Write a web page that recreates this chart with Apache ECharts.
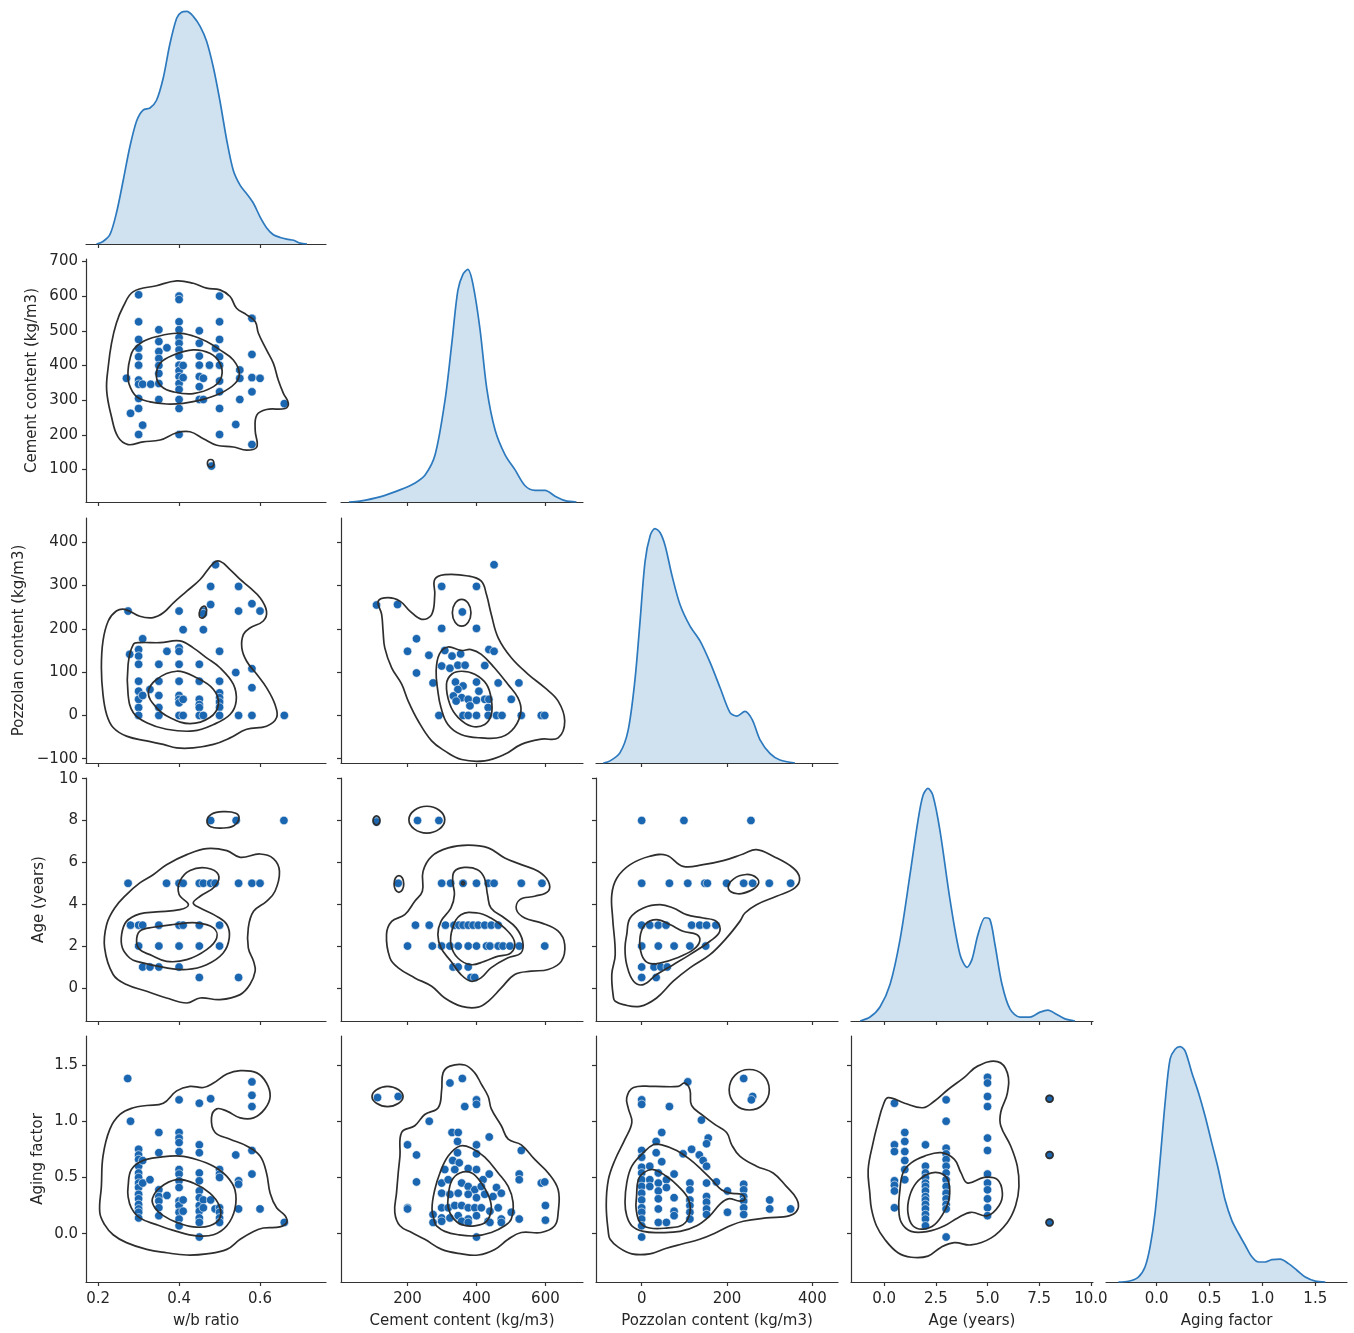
<!DOCTYPE html>
<html><head><meta charset="utf-8">
<script src="https://cdn.jsdelivr.net/npm/echarts@6/dist/echarts.min.js"></script>
<style>html,body{margin:0;padding:0;background:#fff}#c{width:1354px;height:1333px}</style>
</head><body><div id="c"></div>
<script>
// ---------------- variables / axes ----------------
const varNames = ['w/b ratio','Cement content (kg/m3)','Pozzolan content (kg/m3)','Age (years)','Aging factor'];
const xTickValues = [[0.2,0.4,0.6],[200,400,600],[0,200,400],[0,2.5,5,7.5,10],[0,0.5,1,1.5]];
const yTickValues = [null,[100,200,300,400,500,600,700],[-100,0,100,200,300,400],[0,2,4,6,8,10],[0,0.5,1,1.5]];
const xTickDecimals = [1,0,0,1,1];
const yTickDecimals = [0,0,0,0,1];
const xLimits = [[0.17,0.763],[7,709],[-107,460],[-1.6,10.1],[-0.48,1.80]];
const yLimits = [null,[6.4,707],[-110,456],[-1.58,10.03],[-0.43,1.758]];

// ---------------- diagonal KDE curves (relative density) ----------------
const kde_wb_x = [0.196,0.212,0.229,0.245,0.262,0.278,0.295,0.311,0.328,0.344,0.361,0.377,0.394,0.406,0.419,0.435,0.452,0.468,0.485,0.501,0.518,0.534,0.551,0.567,0.584,0.600,0.617,0.633,0.650,0.666,0.683,0.699,0.716];
const kde_wb_d = [0,0.011,0.040,0.132,0.274,0.415,0.529,0.576,0.585,0.617,0.715,0.858,0.971,0.997,1.0,0.979,0.936,0.872,0.757,0.615,0.444,0.316,0.252,0.216,0.174,0.117,0.068,0.040,0.028,0.021,0.016,0.004,0];
const kde_cement_x = [30,62,120,178,222,251,280,309,329,346,361,375,390,410,430,454,483,512,541,570,599,628,657,690];
const kde_cement_d = [0,0.004,0.022,0.052,0.082,0.116,0.203,0.44,0.69,0.91,0.98,1.0,0.935,0.746,0.487,0.31,0.203,0.138,0.07,0.05,0.05,0.025,0.006,0];
const kde_pozz_x = [-90,-74,-51,-32,-16,-4,8,20,31,43,55,71,90,113,137,160,184,207,223,242,259,277,301,324,359];
const kde_pozz_d = [0,0.009,0.043,0.137,0.35,0.60,0.86,0.97,1.0,0.983,0.927,0.80,0.675,0.585,0.52,0.43,0.32,0.215,0.2,0.22,0.185,0.1,0.04,0.013,0];
const kde_age_x = [-1.16,-0.68,-0.20,0.29,0.77,1.25,1.64,1.88,2.12,2.36,2.70,3.19,3.67,4.01,4.25,4.54,4.88,5.12,5.36,5.70,6.09,6.57,7.05,7.54,7.92,8.31,8.75,9.23];
const kde_age_d = [0,0.017,0.06,0.158,0.35,0.628,0.863,0.97,1.0,0.97,0.82,0.52,0.286,0.231,0.265,0.372,0.444,0.436,0.329,0.158,0.051,0.017,0.017,0.038,0.047,0.03,0.009,0];
const kde_aging_x = [-0.363,-0.268,-0.174,-0.111,-0.063,-0.016,0.032,0.079,0.126,0.174,0.221,0.268,0.332,0.395,0.458,0.521,0.584,0.647,0.710,0.774,0.837,0.900,0.963,1.026,1.089,1.168,1.247,1.326,1.405,1.500,1.595];
const kde_aging_d = [0,0.003,0.021,0.064,0.149,0.292,0.519,0.761,0.947,0.989,1.0,0.982,0.889,0.804,0.704,0.59,0.477,0.348,0.262,0.206,0.156,0.107,0.085,0.085,0.095,0.097,0.078,0.050,0.021,0.004,0];

// ---------------- scatter points ----------------
const sc_wb_cement = [[0.27,363],[0.28,262],[0.30,604],[0.30,526],[0.30,475],[0.30,450],[0.30,425],[0.30,401],[0.30,358],[0.30,346],[0.30,305],[0.30,276],[0.30,201],[0.31,228],[0.31,346],[0.33,346],[0.35,503],[0.35,469],[0.35,440],[0.35,420],[0.35,400],[0.35,377],[0.35,348],[0.35,302],[0.37,451],[0.40,600],[0.40,590],[0.40,526],[0.40,503],[0.40,481],[0.40,464],[0.40,445],[0.40,427],[0.40,401],[0.40,385],[0.40,368],[0.40,348],[0.40,331],[0.40,302],[0.40,276],[0.40,201],[0.41,400],[0.41,365],[0.45,500],[0.45,464],[0.45,427],[0.45,401],[0.45,368],[0.45,339],[0.45,302],[0.46,363],[0.46,302],[0.475,401],[0.48,110],[0.49,450],[0.50,600],[0.50,526],[0.50,475],[0.50,425],[0.50,401],[0.50,355],[0.50,324],[0.50,276],[0.50,201],[0.54,230],[0.55,387],[0.55,363],[0.55,302],[0.58,536],[0.58,432],[0.58,365],[0.58,324],[0.58,172],[0.60,363],[0.66,290]];
const sc_wb_pozz = [[0.274,241],[0.278,141],[0.30,152],[0.30,137],[0.30,118],[0.30,79],[0.30,56],[0.30,37],[0.30,18],[0.30,0],[0.31,177],[0.31,46],[0.328,60],[0.35,118],[0.35,79],[0.35,46],[0.35,18],[0.35,0],[0.37,148],[0.40,241],[0.40,156],[0.40,148],[0.40,118],[0.40,79],[0.40,46],[0.40,37],[0.40,29],[0.40,0],[0.41,198],[0.41,37],[0.41,0],[0.45,118],[0.45,79],[0.45,37],[0.45,25],[0.45,18],[0.45,0],[0.46,241],[0.46,235],[0.46,198],[0.46,0],[0.478,298],[0.478,256],[0.49,348],[0.50,148],[0.50,79],[0.50,52],[0.50,41],[0.50,31],[0.50,19],[0.50,0],[0.54,99],[0.547,298],[0.547,241],[0.547,0],[0.58,258],[0.58,108],[0.58,64],[0.58,0],[0.60,241],[0.66,0]];
const sc_cement_pozz = [[110,255],[171,256],[299,298],[400,298],[451,348],[359,239],[299,201],[400,201],[226,177],[200,148],[262,139],[308,150],[329,137],[354,142],[436,152],[451,148],[226,98],[299,114],[323,109],[346,116],[367,116],[424,115],[274,75],[339,77],[361,68],[346,60],[400,77],[407,56],[463,75],[523,75],[333,45],[357,41],[376,37],[381,22],[400,35],[424,37],[436,37],[434,18],[501,37],[341,33],[291,0],[361,0],[376,0],[400,0],[434,0],[458,0],[474,0],[530,0],[588,0],[598,0]];
const sc_wb_age = [[0.478,8],[0.541,8],[0.659,8],[0.274,5],[0.369,5],[0.40,5],[0.41,5],[0.45,5],[0.46,5],[0.478,5],[0.489,5],[0.547,5],[0.58,5],[0.60,5],[0.28,3],[0.30,3],[0.31,3],[0.35,3],[0.40,3],[0.41,3],[0.45,3],[0.50,3],[0.30,2],[0.35,2],[0.40,2],[0.45,2],[0.50,2],[0.31,1],[0.328,1],[0.35,1],[0.40,1],[0.45,0.5],[0.547,0.5]];
const sc_cement_age = [[110,8.0],[110,7.93],[229,8],[291,8],[173,5],[299,5],[325,5],[361,5],[400,5],[434,5],[451,5],[530,5],[590,5],[223,3],[263,3],[310,3],[335,3],[349,3],[361,3],[376,3],[390,3],[405,3],[424,3],[443,3],[463,3],[200,2],[272,2],[299,2],[323,2],[347,2],[376,2],[400,2],[429,2],[439,2],[463,2],[477,2],[497,2],[524,2],[598,2],[332,1],[347,1],[376,1],[384,0.5],[395,0.5]];
const sc_pozz_age = [[0,8],[99,8],[256,8],[0,5],[65,5],[108,5],[148,5],[154,5],[199,5],[239,5],[260,5],[299,5],[349,5],[0,3],[19,3],[39,3],[57,3],[117,3],[136,3],[152,3],[174,3],[0,2],[39,2],[76,2],[113,2],[150,2],[0,1],[29,1],[45,1],[60,1],[0,0.5],[34,0.5]];
const sc_wb_aging = [[0.273,1.38],[0.28,1.0],[0.30,0.75],[0.30,0.70],[0.30,0.66],[0.30,0.60],[0.30,0.54],[0.30,0.50],[0.30,0.45],[0.30,0.41],[0.30,0.35],[0.30,0.31],[0.30,0.26],[0.30,0.22],[0.30,0.19],[0.30,0.14],[0.31,0.65],[0.31,0.45],[0.328,0.48],[0.35,0.90],[0.35,0.72],[0.35,0.39],[0.35,0.33],[0.35,0.29],[0.35,0.23],[0.35,0.16],[0.37,0.34],[0.40,1.19],[0.40,0.90],[0.40,0.85],[0.40,0.81],[0.40,0.73],[0.40,0.57],[0.40,0.53],[0.40,0.47],[0.40,0.41],[0.40,0.29],[0.40,0.25],[0.40,0.19],[0.40,0.13],[0.40,0.07],[0.41,0.30],[0.41,0.20],[0.45,1.16],[0.45,0.79],[0.45,0.72],[0.45,0.54],[0.45,0.47],[0.45,0.38],[0.45,0.32],[0.45,0.25],[0.45,0.20],[0.45,0.14],[0.45,0.10],[0.45,-0.03],[0.46,0.30],[0.46,0.23],[0.478,1.20],[0.478,0.30],[0.489,0.22],[0.50,0.57],[0.50,0.53],[0.50,0.50],[0.50,0.23],[0.50,0.19],[0.50,0.14],[0.50,0.10],[0.54,0.70],[0.547,0.47],[0.547,0.44],[0.547,0.22],[0.58,1.35],[0.58,1.23],[0.58,1.13],[0.58,0.74],[0.58,0.53],[0.60,0.22],[0.66,0.10]];
const sc_cement_aging = [[113,1.21],[173,1.22],[323,1.34],[359,1.38],[400,1.19],[400,1.15],[366,1.13],[263,1.0],[329,0.90],[347,0.90],[437,0.86],[200,0.79],[345,0.82],[400,0.79],[226,0.70],[400,0.71],[530,0.74],[345,0.72],[331,0.65],[350,0.63],[308,0.57],[337,0.57],[376,0.58],[400,0.57],[437,0.53],[419,0.48],[524,0.53],[524,0.48],[226,0.46],[299,0.45],[318,0.48],[588,0.45],[598,0.46],[458,0.41],[472,0.36],[357,0.45],[376,0.42],[395,0.39],[414,0.42],[299,0.36],[323,0.35],[347,0.36],[376,0.35],[400,0.32],[424,0.35],[448,0.33],[200,0.23],[200,0.22],[299,0.23],[318,0.23],[337,0.25],[357,0.25],[376,0.23],[395,0.23],[414,0.23],[439,0.20],[463,0.23],[274,0.17],[299,0.14],[323,0.14],[347,0.16],[376,0.13],[400,0.16],[434,0.11],[472,0.13],[501,0.19],[524,0.13],[274,0.10],[299,0.11],[357,0.11],[376,0.10],[439,0.10],[472,0.10],[600,0.25],[600,0.12],[400,-0.03]];
const sc_pozz_aging = [[0,1.19],[0,1.15],[65,1.13],[108,1.35],[140,1.01],[47,0.90],[156,0.85],[152,0.80],[34,0.82],[0,0.74],[34,0.72],[97,0.71],[117,0.75],[135,0.70],[144,0.65],[152,0.60],[0,0.68],[0,0.59],[0,0.54],[0,0.48],[0,0.42],[0,0.36],[0,0.30],[0,0.23],[0,0.19],[0,0.13],[0,0.07],[0,-0.03],[19,0.60],[19,0.48],[19,0.42],[47,0.64],[39,0.54],[39,0.45],[39,0.38],[39,0.31],[39,0.22],[58,0.48],[58,0.41],[76,0.53],[76,0.32],[76,0.20],[76,0.16],[39,0.10],[58,0.10],[113,0.45],[113,0.39],[113,0.30],[113,0.25],[113,0.19],[113,0.13],[152,0.45],[152,0.33],[152,0.28],[152,0.22],[152,0.17],[175,0.46],[201,0.38],[201,0.19],[239,0.44],[239,0.39],[239,0.33],[239,0.29],[239,0.23],[239,0.17],[300,0.30],[300,0.22],[349,0.22],[239,1.38],[260,1.22],[257,1.19]];
const sc_age_aging = [[0.5,1.16],[0.5,0.79],[0.5,0.73],[0.5,0.47],[0.5,0.43],[0.5,0.38],[0.5,0.23],[1,0.90],[1,0.82],[1,0.73],[1,0.65],[1,0.57],[1,0.48],[2,0.79],[2,0.60],[2,0.54],[2,0.50],[2,0.45],[2,0.42],[2,0.38],[2,0.33],[2,0.30],[2,0.26],[2,0.22],[2,0.17],[2,0.13],[2,0.07],[3,1.19],[3,1.0],[3,0.76],[3,0.71],[3,0.66],[3,0.60],[3,0.54],[3,0.48],[3,0.42],[3,0.36],[3,0.31],[3,0.26],[3,0.22],[3,-0.03],[5,1.39],[5,1.34],[5,1.22],[5,1.13],[5,0.85],[5,0.74],[5,0.53],[5,0.45],[5,0.39],[5,0.31],[5,0.23],[5,0.16],[8,1.20],[8,0.70],[8,0.10]];

// ---------------- KDE contour lines (closed, traced in data units) ----------------
const ct_wb_cement = [
 [[0.287,613],[0.344,630],[0.394,644],[0.435,637],[0.468,623],[0.501,618],[0.526,599],[0.542,565],[0.567,546],[0.588,527],[0.596,493],[0.616,445],[0.633,406],[0.645,358],[0.658,319],[0.670,291],[0.662,276],[0.616,273],[0.592,257],[0.588,213],[0.592,165],[0.567,156],[0.534,165],[0.493,170],[0.460,189],[0.427,209],[0.394,206],[0.353,185],[0.311,180],[0.274,172],[0.249,194],[0.233,252],[0.221,329],[0.225,397],[0.233,464],[0.245,522],[0.262,570]],
 [[0.278,416],[0.287,445],[0.311,469],[0.344,483],[0.394,493],[0.435,485],[0.468,469],[0.501,445],[0.534,416],[0.549,377],[0.538,348],[0.501,319],[0.452,300],[0.410,291],[0.369,289],[0.328,295],[0.295,310],[0.276,348],[0.274,387]],
 [[0.344,368],[0.353,406],[0.386,430],[0.435,445],[0.476,435],[0.501,406],[0.505,368],[0.485,339],[0.435,319],[0.386,324],[0.357,339]],
 [[0.470,118],[0.472,126],[0.478,129],[0.484,126],[0.486,118],[0.484,110],[0.478,107],[0.472,110]]
];
const ct_wb_pozz = [
 [[0.266,245],[0.303,229],[0.336,226],[0.361,237],[0.386,260],[0.419,287],[0.452,314],[0.485,352],[0.501,356],[0.526,337],[0.551,314],[0.575,295],[0.600,272],[0.616,241],[0.608,218],[0.575,202],[0.559,187],[0.555,156],[0.567,125],[0.592,95],[0.616,64],[0.637,25],[0.641,-5],[0.616,-25],[0.567,-32],[0.526,-52],[0.485,-67],[0.435,-75],[0.394,-75],[0.361,-67],[0.320,-59],[0.270,-48],[0.237,-28],[0.221,2],[0.212,48],[0.208,110],[0.212,172],[0.225,218],[0.245,241]],
 [[0.287,164],[0.303,168],[0.353,168],[0.402,172],[0.435,156],[0.468,133],[0.501,110],[0.534,72],[0.541,33],[0.526,2],[0.485,-21],[0.435,-36],[0.369,-32],[0.320,-17],[0.287,6],[0.274,48],[0.274,118]],
 [[0.324,52],[0.344,83],[0.394,102],[0.443,87],[0.485,60],[0.497,25],[0.476,-5],[0.427,-19],[0.377,-5],[0.344,18]],
 [[0.450,230],[0.452,244],[0.460,252],[0.467,248],[0.467,236],[0.462,227],[0.455,225]]
];
const ct_cement_pozz = [
 [[115,264],[144,272],[178,264],[207,241],[241,222],[270,233],[279,279],[279,314],[308,325],[376,322],[414,310],[429,279],[443,233],[463,179],[501,133],[550,95],[598,64],[637,33],[656,-13],[637,-52],[588,-55],[530,-67],[482,-90],[424,-105],[357,-102],[308,-82],[270,-59],[231,-13],[202,33],[183,72],[154,110],[134,156],[129,195],[125,233]],
 [[317,158],[355,150],[384,152],[414,141],[452,110],[491,72],[520,41],[529,10],[510,-28],[472,-50],[414,-52],[355,-44],[317,-21],[297,18],[288,56],[283,102],[292,141]],
 [[313,72],[328,95],[357,102],[395,95],[429,72],[443,37],[443,2],[424,-21],[386,-25],[347,-5],[323,25]],
 [[330,237],[338,259],[357,268],[376,259],[384,237],[376,215],[357,206],[338,215]]
];
const ct_wb_age = [
 [[0.216,1.91],[0.221,3.03],[0.241,3.82],[0.270,4.46],[0.303,5.02],[0.336,5.41],[0.369,5.89],[0.419,6.37],[0.468,6.66],[0.518,6.56],[0.551,6.24],[0.600,6.40],[0.633,6.18],[0.648,5.57],[0.637,4.62],[0.616,4.14],[0.584,3.66],[0.571,2.87],[0.571,1.91],[0.584,1.27],[0.588,0.80],[0.575,0.16],[0.551,-0.32],[0.501,-0.56],[0.452,-0.48],[0.419,-0.72],[0.369,-0.48],[0.320,-0.16],[0.270,0.16],[0.237,0.64]],
 [[0.295,1.27],[0.369,0.96],[0.419,0.88],[0.468,1.11],[0.509,1.67],[0.524,2.39],[0.518,3.03],[0.493,3.42],[0.452,3.82],[0.435,4.06],[0.452,4.38],[0.489,4.86],[0.497,5.41],[0.468,5.73],[0.427,5.61],[0.402,5.10],[0.400,4.46],[0.423,3.98],[0.402,3.74],[0.344,3.63],[0.303,3.54],[0.270,3.18],[0.258,2.55],[0.260,1.91],[0.278,1.43]],
 [[0.295,2.23],[0.303,2.71],[0.336,2.90],[0.386,3.03],[0.443,3.11],[0.485,2.87],[0.493,2.39],[0.468,1.83],[0.419,1.35],[0.369,1.27],[0.328,1.59],[0.303,1.83]],
 [[0.469,8.0],[0.480,8.3],[0.508,8.42],[0.540,8.35],[0.548,8.1],[0.535,7.75],[0.508,7.64],[0.478,7.7]]
];
const ct_cement_age = [
 [[139,2.55],[154,3.18],[192,3.50],[221,4.14],[243,4.62],[245,5.57],[270,6.29],[318,6.69],[376,6.82],[434,6.69],[482,6.21],[530,5.89],[579,5.57],[608,5.10],[608,4.62],[569,4.38],[526,4.22],[516,3.74],[540,3.34],[588,3.11],[637,2.71],[656,2.07],[646,1.27],[608,0.88],[559,0.80],[511,0.64],[472,0.0],[434,-0.64],[405,-0.92],[357,-0.88],[308,-0.48],[270,0.08],[221,0.48],[173,0.96],[149,1.43]],
 [[336,5.57],[365,5.76],[403,5.65],[423,5.25],[432,4.46],[442,3.82],[481,3.34],[515,2.87],[534,2.23],[529,1.67],[490,1.43],[442,0.96],[413,0.48],[384,0.32],[355,0.64],[326,1.27],[297,1.91],[288,2.55],[297,3.18],[326,3.82],[336,4.46],[331,5.10]],
 [[331,2.87],[355,3.50],[403,3.58],[442,3.34],[481,2.87],[510,2.23],[500,1.67],[461,1.51],[423,1.27],[384,1.11],[346,1.43],[326,2.07]],
 [[100,8.0],[103,8.15],[110,8.22],[117,8.15],[120,8.0],[117,7.85],[110,7.78],[103,7.85]],
 [[204,8.04],[220,8.49],[256,8.68],[292,8.49],[308,8.04],[292,7.59],[256,7.40],[220,7.59]],
 [[161,4.97],[165,5.25],[175,5.37],[185,5.25],[189,4.97],[185,4.69],[175,4.57],[165,4.69]],
 [[357,5.0],[359,5.06],[361,5.08],[363,5.06],[365,5.0],[363,4.94],[361,4.92],[359,4.94]]
];
const ct_pozz_age = [
 [[-66,-0.48],[-70,0.64],[-62,1.59],[-68,3.34],[-70,4.46],[-58,5.25],[-27,5.89],[19,6.29],[58,6.34],[97,5.81],[144,5.89],[191,6.08],[238,6.40],[269,6.61],[308,6.29],[355,5.73],[370,5.25],[359,4.78],[316,4.38],[269,3.98],[242,3.58],[230,3.18],[199,2.39],[160,1.59],[113,0.96],[74,0.32],[35,-0.48],[-4,-0.88],[-43,-0.80],[-62,-0.64]],
 [[-35,2.55],[-27,3.34],[4,3.82],[43,3.98],[74,3.82],[105,3.50],[144,3.34],[175,3.18],[183,2.71],[160,2.23],[113,1.59],[74,1.11],[35,0.64],[4,0.16],[-19,0.32],[-35,1.11],[-39,1.91]],
 [[-4,2.39],[8,3.03],[35,3.26],[66,3.03],[97,2.71],[129,2.55],[136,2.23],[121,1.83],[82,1.43],[43,1.19],[16,1.19],[0,1.59]],
 [[203,4.75],[215,5.2],[245,5.42],[270,5.25],[273,4.95],[255,4.65],[225,4.5]]
];
const ct_wb_aging = [
 [[0.208,0.42],[0.212,0.69],[0.229,0.93],[0.254,1.06],[0.287,1.12],[0.320,1.14],[0.361,1.16],[0.394,1.27],[0.427,1.31],[0.460,1.30],[0.485,1.34],[0.518,1.42],[0.551,1.45],[0.592,1.43],[0.616,1.34],[0.625,1.22],[0.612,1.11],[0.584,1.03],[0.551,1.03],[0.518,1.09],[0.493,1.11],[0.480,1.03],[0.489,0.90],[0.526,0.84],[0.567,0.78],[0.600,0.69],[0.616,0.54],[0.625,0.36],[0.641,0.23],[0.662,0.16],[0.666,0.10],[0.649,0.06],[0.608,0.05],[0.584,0.02],[0.551,-0.05],[0.518,-0.14],[0.468,-0.18],[0.419,-0.19],[0.369,-0.17],[0.320,-0.14],[0.270,-0.08],[0.237,-0.01],[0.216,0.08],[0.204,0.19]],
 [[0.274,0.42],[0.282,0.57],[0.311,0.65],[0.353,0.68],[0.402,0.69],[0.443,0.66],[0.485,0.60],[0.518,0.51],[0.538,0.39],[0.538,0.22],[0.518,0.07],[0.485,-0.01],[0.443,-0.02],[0.394,0.02],[0.344,0.08],[0.303,0.14],[0.282,0.23],[0.274,0.33]],
 [[0.334,0.31],[0.353,0.41],[0.394,0.48],[0.435,0.45],[0.476,0.36],[0.499,0.25],[0.501,0.14],[0.476,0.07],[0.435,0.06],[0.394,0.10],[0.361,0.16],[0.340,0.23]]
];
const ct_cement_aging = [
 [[163,0.19],[168,0.36],[173,0.54],[178,0.69],[183,0.90],[221,0.96],[250,1.06],[289,1.12],[299,1.28],[303,1.43],[323,1.49],[366,1.50],[395,1.43],[414,1.33],[434,1.22],[443,1.11],[472,0.96],[492,0.84],[530,0.79],[569,0.66],[608,0.54],[637,0.39],[637,0.19],[627,0.07],[588,0.01],[530,0.01],[492,-0.05],[453,-0.14],[405,-0.19],[357,-0.18],[299,-0.14],[250,-0.05],[212,0.01],[178,0.07]],
 [[279,0.10],[271,0.22],[279,0.39],[294,0.54],[318,0.69],[352,0.78],[386,0.76],[424,0.68],[463,0.54],[492,0.42],[506,0.28],[501,0.13],[482,0.07],[443,0.01],[395,-0.02],[347,-0.01],[308,0.02],[284,0.07]],
 [[318,0.33],[328,0.47],[352,0.54],[386,0.54],[414,0.45],[436,0.33],[443,0.22],[429,0.11],[395,0.07],[357,0.08],[332,0.14],[318,0.23]],
 [[97,1.22],[110,1.28],[142,1.31],[174,1.28],[187,1.22],[174,1.16],[142,1.13],[110,1.16]]
];
const ct_pozz_aging = [
 [[-78,0.01],[-83,0.25],[-78,0.48],[-62,0.66],[-39,0.84],[-23,0.99],[-31,1.11],[-35,1.21],[-19,1.30],[27,1.31],[86,1.31],[101,1.34],[113,1.28],[117,1.14],[144,1.05],[172,0.97],[199,0.90],[211,0.79],[230,0.69],[269,0.60],[308,0.54],[339,0.42],[363,0.31],[366,0.22],[347,0.16],[292,0.14],[238,0.11],[207,0.07],[175,0.01],[136,-0.05],[97,-0.09],[58,-0.13],[19,-0.18],[-23,-0.18],[-55,-0.12],[-74,-0.05]],
 [[-39,0.28],[-35,0.45],[-23,0.60],[4,0.72],[27,0.79],[47,0.79],[82,0.74],[113,0.66],[140,0.57],[164,0.48],[187,0.39],[207,0.36],[234,0.35],[242,0.31],[230,0.29],[203,0.31],[183,0.26],[160,0.16],[129,0.07],[90,0.02],[43,0.01],[4,0.02],[-23,0.07],[-35,0.16]],
 [[-12,0.33],[-8,0.48],[4,0.54],[27,0.57],[58,0.51],[86,0.42],[109,0.31],[113,0.19],[97,0.08],[58,0.05],[19,0.05],[-4,0.10],[-13,0.22]],
 [[205,1.28],[219,1.41],[252,1.46],[285,1.41],[299,1.28],[285,1.15],[252,1.10],[219,1.15]]
];
const ct_age_aging = [
 [[-0.69,0.36],[-0.77,0.57],[-0.53,0.81],[-0.29,0.99],[-0.05,1.14],[0.19,1.21],[0.99,1.16],[1.88,1.12],[2.44,1.18],[3.08,1.28],[3.88,1.39],[4.52,1.49],[5.48,1.53],[5.96,1.43],[5.96,1.25],[5.64,1.08],[5.64,0.96],[6.12,0.78],[6.44,0.60],[6.52,0.42],[6.36,0.25],[5.96,0.10],[5.16,-0.04],[4.20,-0.10],[3.40,-0.08],[2.76,-0.12],[2.12,-0.20],[1.31,-0.21],[0.67,-0.17],[0.03,-0.05],[-0.37,0.07],[-0.61,0.22]],
 [[0.75,0.36],[0.91,0.54],[1.31,0.63],[1.96,0.69],[2.76,0.72],[3.40,0.66],[3.72,0.54],[4.04,0.45],[4.84,0.50],[5.48,0.48],[5.72,0.36],[5.56,0.25],[5.00,0.16],[4.20,0.19],[3.56,0.14],[2.92,0.07],[2.12,0.02],[1.31,0.02],[0.83,0.10],[0.71,0.23]],
 [[1.15,0.19],[1.23,0.33],[1.55,0.45],[2.12,0.53],[2.68,0.54],[3.08,0.48],[3.16,0.33],[2.92,0.20],[2.44,0.08],[1.88,0.04],[1.39,0.07]],
 [[7.83,1.20],[7.88,1.221],[8,1.23],[8.12,1.221],[8.17,1.20],[8.12,1.179],[8,1.17],[7.88,1.179]],
 [[7.83,0.70],[7.88,0.721],[8,0.73],[8.12,0.721],[8.17,0.70],[8.12,0.679],[8,0.67],[7.88,0.679]],
 [[7.83,0.10],[7.88,0.121],[8,0.13],[8.12,0.121],[8.17,0.10],[8.12,0.079],[8,0.07],[7.88,0.079]]
];

// ---------------- panel wiring ----------------
const diagCurves = [[kde_wb_x,kde_wb_d],[kde_cement_x,kde_cement_d],[kde_pozz_x,kde_pozz_d],[kde_age_x,kde_age_d],[kde_aging_x,kde_aging_d]];
const lowerPanels = {
 '1,0':[sc_wb_cement,ct_wb_cement],
 '2,0':[sc_wb_pozz,ct_wb_pozz], '2,1':[sc_cement_pozz,ct_cement_pozz],
 '3,0':[sc_wb_age,ct_wb_age], '3,1':[sc_cement_age,ct_cement_age], '3,2':[sc_pozz_age,ct_pozz_age],
 '4,0':[sc_wb_aging,ct_wb_aging], '4,1':[sc_cement_aging,ct_cement_aging], '4,2':[sc_pozz_aging,ct_pozz_aging], '4,3':[sc_age_aging,ct_age_aging]
};

// ---------------- layout & style ----------------
const LAYOUT = {colLeft:[86,341,596,851,1106], colWidth:[240,242,242,242,241], rowTop:[1,259,518,778,1036], rowHeight:[243,243,245,243,246], yNameGap:[0,46,59,39,40]};
const FONT = 'DejaVu Sans';
const FS = 15;
const TXT = '#262626';
const AXC = '#333333';
const PT = '#1a66b0';
const KDE_TOP = 1.045;
const fmt = dec => v => (v < 0 ? '\u2212' : '') + Math.abs(v).toFixed(dec);

const grids = [], xAxes = [], yAxes = [], series = [];
let gi = 0;
for (let r = 0; r < 5; r++) {
  for (let c = 0; c <= r; c++) {
    grids.push({left: LAYOUT.colLeft[c], top: LAYOUT.rowTop[r], width: LAYOUT.colWidth[c], height: LAYOUT.rowHeight[r]});
    const bottom = r === 4;
    xAxes.push({
      gridIndex: gi, type: 'value', min: xLimits[c][0], max: xLimits[c][1],
      axisLine: {show: true, onZero: false, lineStyle: {color: AXC, width: 1.2}},
      axisTick: {show: true, customValues: xTickValues[c], length: 4, lineStyle: {color: AXC, width: 1.2}},
      axisLabel: {show: bottom, customValues: xTickValues[c], formatter: fmt(xTickDecimals[c]), fontSize: FS, fontFamily: FONT, color: TXT, margin: 10},
      splitLine: {show: false},
      name: bottom ? varNames[c] : '', nameLocation: 'middle', nameGap: 32,
      nameTextStyle: {fontSize: FS, fontFamily: FONT, color: TXT}
    });
    if (r === c) {
      yAxes.push({gridIndex: gi, type: 'value', min: 0, max: KDE_TOP, show: false});
      const [xs, ds] = diagCurves[c];
      series.push({
        type: 'line', xAxisIndex: gi, yAxisIndex: gi, data: xs.map((v, i) => [v, ds[i]]),
        smooth: 0.3, showSymbol: false, silent: true,
        lineStyle: {color: '#2c79be', width: 1.7},
        areaStyle: {color: 'rgba(31,119,180,0.3)'}, z: 2
      });
    } else {
      const left = c === 0;
      yAxes.push({
        gridIndex: gi, type: 'value', min: yLimits[r][0], max: yLimits[r][1],
        axisLine: {show: true, onZero: false, lineStyle: {color: AXC, width: 1.2}},
        axisTick: {show: true, customValues: yTickValues[r], length: 4, lineStyle: {color: AXC, width: 1.2}},
        axisLabel: {show: left, customValues: yTickValues[r], formatter: fmt(yTickDecimals[r]), fontSize: FS, fontFamily: FONT, color: TXT, margin: 8},
        splitLine: {show: false},
        name: left ? varNames[r] : '', nameLocation: 'middle', nameRotate: 90, nameGap: LAYOUT.yNameGap[r],
        nameTextStyle: {fontSize: FS, fontFamily: FONT, color: TXT}
      });
      const [pts, cts] = lowerPanels[r + ',' + c];
      series.push({
        type: 'scatter', xAxisIndex: gi, yAxisIndex: gi, data: pts, symbolSize: 8.5, silent: true,
        itemStyle: {color: PT, borderColor: '#ffffff', borderWidth: 0.6, opacity: 1}, z: 2
      });
      series.push({
        type: 'custom', xAxisIndex: gi, yAxisIndex: gi, silent: true, z: 3, clip: false,
        data: cts.map((p, i) => [p[0][0], p[0][1], i]),
        encode: {x: 0, y: 1},
        renderItem: (params, api) => {
          const poly = cts[api.value(2)];
          return {type: 'polygon', shape: {points: poly.map(p => api.coord(p)), smooth: 0.4},
                  style: {fill: 'none', stroke: '#2e2e2e', lineWidth: 1.7}};
        }
      });
    }
    gi++;
  }
}

const chart = echarts.init(document.getElementById('c'), null, {renderer: 'canvas'});
chart.setOption({animation: false, backgroundColor: '#ffffff', grid: grids, xAxis: xAxes, yAxis: yAxes, series: series});
</script></body></html>
